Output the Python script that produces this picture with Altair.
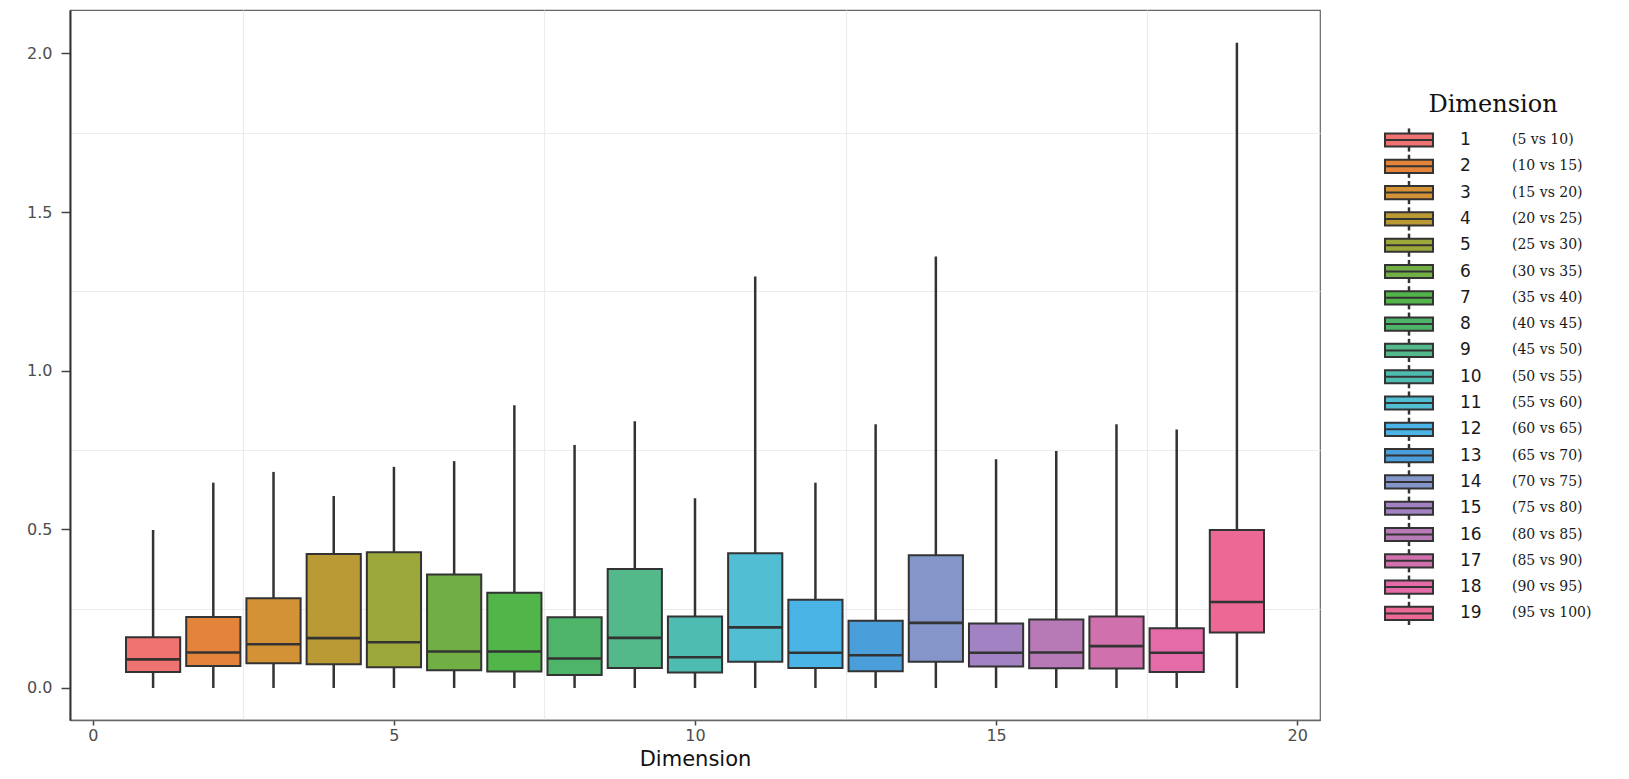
import altair as alt
import pandas as pd

# ---- data ----
dims = list(range(1, 20))
pair_labels = ["(5 vs 10)", "(10 vs 15)", "(15 vs 20)", "(20 vs 25)", "(25 vs 30)",
               "(30 vs 35)", "(35 vs 40)", "(40 vs 45)", "(45 vs 50)", "(50 vs 55)",
               "(55 vs 60)", "(60 vs 65)", "(65 vs 70)", "(70 vs 75)", "(75 vs 80)",
               "(80 vs 85)", "(85 vs 90)", "(90 vs 95)", "(95 vs 100)"]
lower = [0.0, 0.0, 0.0, 0.0, 0.0, 0.0, 0.0, 0.0, 0.0, 0.0,
         0.0, 0.0, 0.0, 0.0, 0.0, 0.0, 0.0, 0.0, 0.0]
q1 = [0.050, 0.069, 0.078, 0.075, 0.065, 0.056, 0.052, 0.041, 0.063, 0.049,
      0.083, 0.063, 0.053, 0.083, 0.068, 0.062, 0.061, 0.050, 0.175]
median = [0.090, 0.112, 0.138, 0.157, 0.144, 0.115, 0.115, 0.093, 0.158, 0.097,
          0.191, 0.111, 0.103, 0.205, 0.111, 0.112, 0.132, 0.111, 0.271]
q3 = [0.160, 0.224, 0.283, 0.422, 0.428, 0.358, 0.300, 0.223, 0.375, 0.225,
      0.425, 0.278, 0.212, 0.418, 0.203, 0.216, 0.225, 0.188, 0.498]
upper = [0.498, 0.647, 0.681, 0.605, 0.697, 0.715, 0.891, 0.766, 0.841, 0.598,
         1.297, 0.647, 0.831, 1.360, 0.721, 0.747, 0.831, 0.815, 2.034]
x_ticks = [0, 2.5, 5, 7.5, 10, 12.5, 15, 17.5, 20]
y_ticks = [0, 0.25, 0.5, 0.75, 1.0, 1.25, 1.5, 1.75, 2.0]

# fill colours
colors = ["#EF7370", "#E4843B", "#D49236", "#BA9A35", "#9DA83A", "#71AE44", "#52B54A",
          "#4EB46A", "#53B98B", "#4FBCB2", "#51BED4", "#4AB4E6", "#4A9ED9", "#8395C9",
          "#A282C3", "#B87AB6", "#D070AC", "#E46BA8", "#EB6994"]
keys = [str(d) for d in dims]

df = pd.DataFrame({"dim": dims, "key": keys, "label": pair_labels, "lower": lower,
                   "q1": q1, "median": median, "q3": q3, "upper": upper})

DARK = "#333333"
xscale = alt.Scale(domain=[-0.38, 20.38], nice=False, zero=False)
yscale = alt.Scale(domain=[-0.101, 2.137], nice=False, zero=False)
fill_scale = alt.Scale(domain=keys, range=colors)

xaxis = alt.Axis(values=x_ticks,
                 labelExpr="datum.value % 5 === 0 ? format(datum.value, 'd') : ''",
                 grid=True, gridColor="#ececec", gridWidth=1.2,
                 gridOpacity={"condition": {"test": "datum.value % 5 !== 0", "value": 1}, "value": 0},
                 tickOpacity={"condition": {"test": "datum.value % 5 === 0", "value": 1}, "value": 0},
                 tickSize=5, tickColor="#444444", tickWidth=1.5,
                 labelFont="DejaVu Sans", labelFontSize=16, labelColor="#4d4d4d", labelPadding=2,
                 titleFont="DejaVu Sans", titleFontSize=21, titleFontWeight="normal",
                 titleColor="#111111", titlePadding=5,
                 domainColor="#666666", domainWidth=1.5)
yaxis = alt.Axis(values=y_ticks,
                 labelExpr="datum.value % 0.5 === 0 ? format(datum.value, '.1f') : ''",
                 grid=True, gridColor="#ececec", gridWidth=1.2,
                 gridOpacity={"condition": {"test": "datum.value % 0.5 !== 0", "value": 1}, "value": 0},
                 tickOpacity={"condition": {"test": "datum.value % 0.5 === 0", "value": 1}, "value": 0},
                 tickSize=9, tickColor="#444444", tickWidth=1.5,
                 labelFont="DejaVu Sans", labelFontSize=16, labelColor="#4d4d4d", labelPadding=9,
                 domainColor="#333333", domainWidth=2, minExtent=62)

base = alt.Chart(df)

whisk = base.mark_rule(color=DARK, strokeWidth=2.5).encode(
    x=alt.X("dim:Q", scale=xscale, axis=xaxis, title="Dimension"),
    y=alt.Y("lower:Q", scale=yscale, axis=yaxis, title=""),
    y2="upper:Q",
)
boxes = base.transform_calculate(
    xl="datum.dim - 0.45", xr="datum.dim + 0.45"
).mark_rect(stroke=DARK, strokeWidth=2).encode(
    x=alt.X("xl:Q", scale=xscale, title="Dimension"),
    x2="xr:Q",
    y=alt.Y("q1:Q", scale=yscale, title=""),
    y2="q3:Q",
    fill=alt.Fill("key:N", scale=fill_scale, legend=None),
)
meds = base.transform_calculate(
    xl="datum.dim - 0.45", xr="datum.dim + 0.45"
).mark_rule(color=DARK, strokeWidth=2.6).encode(
    x=alt.X("xl:Q", scale=xscale, title="Dimension"),
    x2="xr:Q",
    y=alt.Y("median:Q", scale=yscale, title=""),
)
main = alt.layer(whisk, boxes, meds)

# ---- hand-drawn legend with boxplot glyphs ----
lscale = alt.Scale(domain=[-3.943, 23.053], reverse=True, nice=False, zero=False)
lw = base.transform_calculate(a="datum.dim - 0.44", b="datum.dim + 0.44").mark_rule(
    color=DARK, strokeWidth=2.5).encode(
    x=alt.value(1339), y=alt.Y("a:Q", scale=lscale, axis=None), y2="b:Q")
lb = base.transform_calculate(a="datum.dim - 0.25", b="datum.dim + 0.25").mark_rect(
    stroke=DARK, strokeWidth=2).encode(
    x=alt.value(1315), x2=alt.value(1363),
    y=alt.Y("a:Q", scale=lscale, axis=None), y2="b:Q",
    fill=alt.Fill("key:N", scale=fill_scale, legend=None))
lm = base.mark_rule(color=DARK, strokeWidth=2).encode(
    x=alt.value(1315), x2=alt.value(1363), y=alt.Y("dim:Q", scale=lscale, axis=None))
ln = base.mark_text(align="left", baseline="middle", font="DejaVu Sans", fontSize=17,
                    color="#1a1a1a").encode(
    x=alt.value(1390), y=alt.Y("dim:Q", scale=lscale, axis=None), text="key:N")
ll = base.mark_text(align="left", baseline="middle", font="DejaVu Serif", fontSize=14,
                    color="#1a1a1a").encode(
    x=alt.value(1442), y=alt.Y("dim:Q", scale=lscale, axis=None), text="label:N")
lt = alt.Chart(pd.DataFrame({"t": ["Dimension"]})).mark_text(
    align="center", baseline="middle", font="DejaVu Serif", fontSize=24,
    color="#111111").encode(x=alt.value(1423), y=alt.value(95), text="t:N")
legend = alt.layer(lw, lb, lm, ln, ll, lt)

chart = alt.layer(main, legend).resolve_scale(y="independent").properties(
    width=1250, height=710,
    padding={"left": 0, "top": 2, "right": 0, "bottom": 0},
    background="white",
).configure_view(stroke="#666666", strokeWidth=1.2)

chart.save("out.html", embed_options={"renderer": "svg", "actions": False})
